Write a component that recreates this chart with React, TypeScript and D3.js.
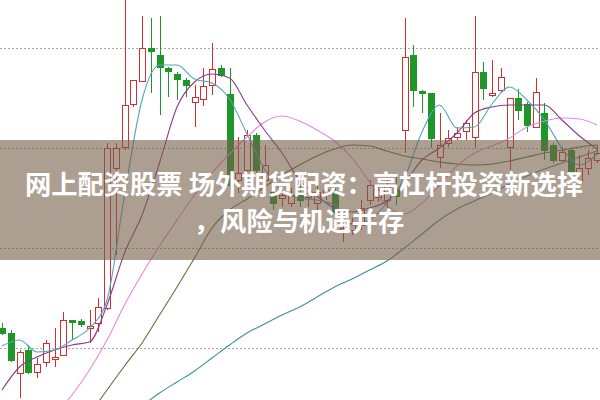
import React from "react";
import * as d3 from "d3";

// Daily candles (price), index = trading day
const opens = [6.40,6.30,5.50,5.96,5.52,5.72,5.78,5.86,6.56,6.54,6.40,6.50,6.80,9.60,10.02,10.88,11.34,12.00,11.86,11.60,11.48,11.36,10.92,10.98,11.26,11.60,11.08,9.36,9.56,10.26,9.36,9.12,9.00,8.90,9.12,9.02,8.90,9.06,9.12,8.32,8.36,8.46,8.96,9.02,8.96,9.20,10.36,11.86,11.14,11.10,9.82,10.10,10.22,10.34,10.22,11.52,11.06,11.16,10.02,11.00,10.88,10.42,10.70,10.06,9.76,9.96,9.32,9.60,9.76];
const highs = [6.50,6.36,5.96,6.06,5.80,6.16,6.40,6.72,6.56,6.58,6.76,7.00,10.10,10.10,12.96,11.36,12.64,12.60,12.64,11.62,11.52,11.40,11.26,11.60,12.10,11.66,11.60,10.22,10.36,10.30,10.06,9.42,9.12,9.20,9.36,9.16,9.36,9.26,9.20,8.50,8.60,8.96,9.36,9.26,9.40,9.46,12.60,12.06,11.16,11.10,10.70,10.36,10.42,10.56,12.64,11.72,11.76,11.60,11.00,11.18,10.92,11.40,10.90,10.10,10.02,10.00,9.86,9.96,10.06];
const lows = [6.26,5.72,5.00,5.48,5.40,5.62,5.62,5.84,6.16,6.42,6.10,6.32,6.76,7.86,9.96,10.82,11.34,11.10,10.66,11.02,10.96,11.02,10.42,10.84,11.06,11.42,9.10,9.10,9.52,9.46,9.10,8.76,8.82,8.82,8.82,8.82,8.76,8.96,8.62,8.12,8.26,8.36,8.86,8.92,8.80,8.86,9.90,10.82,10.70,10.00,9.60,10.02,10.16,10.16,10.00,10.96,11.02,11.12,9.56,10.56,10.32,10.40,9.76,9.70,9.70,9.46,9.26,9.46,9.70];
const closes = [6.30,5.76,5.92,5.52,5.68,6.10,5.82,6.56,6.52,6.48,6.44,6.82,10.00,10.00,10.86,11.36,12.00,11.94,11.62,11.54,11.38,11.26,11.02,11.24,11.58,11.46,9.26,9.50,10.26,9.56,9.66,8.90,9.06,9.06,8.96,9.10,9.12,9.16,8.70,8.40,8.50,8.80,9.26,9.16,9.26,9.04,11.82,11.16,11.10,10.20,10.06,10.20,10.30,10.50,11.52,11.20,11.10,11.42,11.00,10.76,10.46,11.12,9.96,9.76,9.92,9.52,9.60,9.80,9.90];

// Moving averages sampled every second trading day (index 0,2,4,...,68)
const ma5 = [6.04,6.16,5.92,5.96,6.16,6.40,6.96,9.06,10.96,11.66,11.66,11.38,11.30,10.98,10.28,9.58,9.14,9.00,8.96,8.86,8.46,8.56,8.90,9.40,10.32,10.86,10.40,10.42,10.88,11.22,10.96,10.56,10.00,9.66,9.88];
const ma10 = [5.16,5.62,5.82,5.96,6.06,6.12,6.86,7.90,8.66,9.70,10.82,11.32,11.48,11.40,10.86,10.36,9.90,9.36,9.04,8.80,8.72,8.80,8.94,9.30,9.76,10.00,10.30,10.70,10.82,10.86,10.86,10.86,10.56,10.24,9.98];
const ma20 = [null,null,null,4.66,5.06,5.56,6.16,6.86,7.48,8.04,8.56,9.06,9.50,9.88,10.22,10.52,10.64,10.54,10.36,10.14,9.80,9.32,8.84,8.68,8.90,9.26,9.64,9.90,10.04,10.20,10.42,10.54,10.60,10.58,10.46];
const ma30 = [null,null,null,null,null,4.66,5.16,5.64,6.10,6.66,7.22,7.80,8.40,8.76,8.98,9.22,9.46,9.66,9.84,9.98,10.06,10.04,9.94,9.84,9.78,9.72,9.68,9.66,9.68,9.74,9.82,9.90,9.96,10.02,10.06];
const ma60 = [null,null,null,null,null,null,null,null,4.84,5.10,5.32,5.54,5.80,6.06,6.30,6.48,6.66,6.82,7.02,7.22,7.38,7.56,7.74,8.00,8.28,8.56,8.78,8.94,9.10,9.28,9.44,9.58,9.70,9.82,9.94];

const gridPrices = [12, 10, 8, 6];
const titleLines = ["网上配资股票 场外期货配资：高杠杆投资新选择", "，风险与机遇并存"];

const W = 600, H = 400;
const UP = "#d32f2f";
const DOWN = "#1e9628";

export default function App() {
  const x = d3.scaleLinear().domain([0, closes.length - 1]).range([2, 597]);
  const y = d3.scaleLinear().domain([4.96, 12.96]).range([H, 0]);

  const maLine = (arr: (number | null)[]) =>
    d3.line<number | null>()
      .defined((d) => d != null)
      .x((_, k) => x(k * 2))
      .y((d) => y(d as number))
      .curve(d3.curveMonotoneX)(arr) || "";

  const mas = [
    { data: ma60, color: "#3f8f9c" },
    { data: ma30, color: "#52783a" },
    { data: ma20, color: "#e08be0" },
    { data: ma10, color: "#8a3a8c" },
    { data: ma5, color: "#4aa9b9" },
  ];

  return (
    <svg width={W} height={H} style={{ position: "absolute", left: 0, top: 0, background: "#fff" }}>
      <rect x={0} y={0} width={W} height={H} fill="#fff" />
      {gridPrices.map((p) => (
        <line key={p} x1={0} x2={W} y1={Math.round(y(p)) + 0.5} y2={Math.round(y(p)) + 0.5}
          stroke="#a8a8a8" strokeWidth={1} strokeDasharray="2,2" />
      ))}
      {closes.map((c, i) => {
        const o = opens[i];
        const cx = Math.round(x(i));
        const up = c >= o;
        const top = Math.round(y(Math.max(o, c)));
        const bot = Math.round(y(Math.min(o, c)));
        const hi = Math.round(y(highs[i]));
        const lo = Math.round(y(lows[i]));
        const col = up ? UP : DOWN;
        const bh = Math.max(1, bot - top);
        return (
          <g key={i}>
            {up ? (
              <>
                <line x1={cx + 0.5} x2={cx + 0.5} y1={hi} y2={top} stroke={col} />
                <line x1={cx + 0.5} x2={cx + 0.5} y1={bot} y2={lo} stroke={col} />
                <rect x={cx - 2.5} y={top + 0.5} width={6} height={bh} fill="#fff" stroke={col} />
              </>
            ) : (
              <>
                <line x1={cx + 0.5} x2={cx + 0.5} y1={hi} y2={lo} stroke={col} />
                <rect x={cx - 2.5} y={top + 0.5} width={6} height={bh} fill={col} stroke={col} />
              </>
            )}
          </g>
        );
      })}
      {mas.map((m, k) => (
        <path key={k} d={maLine(m.data)} fill="none" stroke={m.color} strokeWidth={1.1} />
      ))}
      <rect x={0} y={140} width={W} height={120} fill="rgb(118,94,74)" fillOpacity={0.6} />
      {titleLines.map((t, k) => (
        <text key={k} x={k === 0 ? 304 : 299} y={194 + k * 37} textAnchor="middle" fill="#fff"
          fontFamily="'Noto Sans CJK SC', sans-serif" fontWeight="bold" fontSize={26.3}>
          {t}
        </text>
      ))}
    </svg>
  );
}
